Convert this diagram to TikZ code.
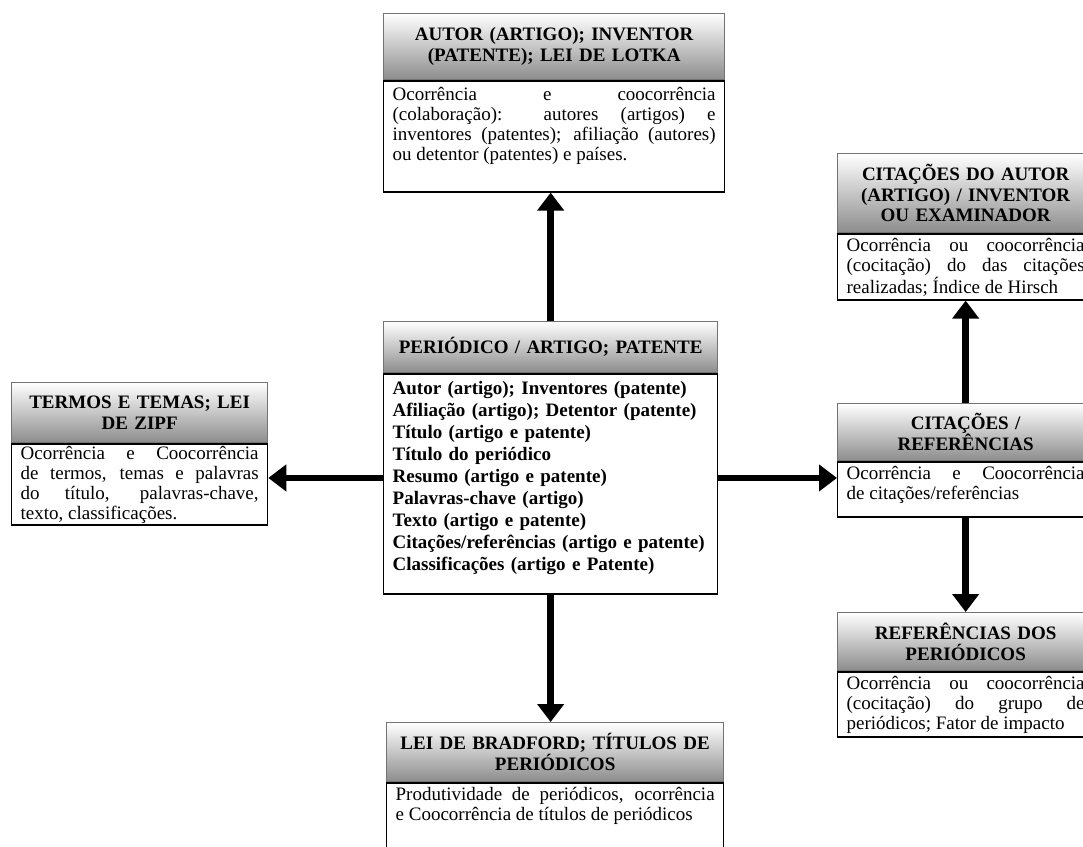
\documentclass[tikz,border=0pt]{standalone}
\usepackage{fontspec}
\setmainfont{Liberation Serif}
\usetikzlibrary{positioning,arrows.meta}
\tolerance=9999
\hbadness=10000

\begin{document}
\begin{tikzpicture}[x=1pt, y=-1pt, node distance=0pt,
    headbox/.style={rectangle, draw=black!55, line width=1.3pt, top color=white, bottom color=black!45, anchor=north west, inner xsep=4pt, inner ysep=0pt, align=center, font=\bfseries\fontsize{19}{20.5}\selectfont},
    bodybox/.style={rectangle, draw=black, line width=1.3pt, fill=white, inner xsep=9pt, inner ysep=0pt, align=justify, text height=18pt, font=\fontsize{19}{20}\selectfont},
    bigarrow/.style={-{Triangle[width=26pt,length=18pt]}, line width=6.5pt}]
    % Page
    \fill[white] (0,0) rectangle (1083,846);
    \useasboundingbox (0,0) rectangle (1083,846);
    \clip (0,0) rectangle (1083,846);

    % Centre
    \node [headbox, minimum height=51pt, text width=326pt] (cenh) at (383,321) {PERIÓDICO / ARTIGO; PATENTE};
    \node [bodybox, below=of cenh, text width=316pt, text height=21pt, text depth=199pt, align=left, font=\bfseries\fontsize{19}{21.9}\selectfont] (cenb)
        {Autor (artigo); Inventores (patente)\\Afiliação (artigo); Detentor (patente)\\Título (artigo e patente)\\Título do periódico\\Resumo (artigo e patente)\\Palavras-chave (artigo)\\Texto (artigo e patente)\\Citações/referências (artigo e patente)\\Classificações (artigo e Patente)};

    % Top and bottom
    \node [headbox, minimum height=66pt, text width=333pt] (autorh) at (383,13) {AUTOR (ARTIGO); INVENTOR\\(PATENTE); LEI DE LOTKA};
    \node [bodybox, below=of autorh, text width=323pt, text height=20pt, text depth=91pt] (autorb)
        {Ocorrência e coocorrência\linebreak (colaboração): autores (artigos) e\linebreak inventores (patentes); afiliação (autores)\linebreak ou detentor (patentes) e países.};
    \node [headbox, minimum height=59pt, text width=329pt] (bradh) at (386,722) {LEI DE BRADFORD; TÍTULOS DE\\PERIÓDICOS};
    \node [bodybox, below=of bradh, text width=319pt, text depth=65pt] (bradb)
        {Produtividade de periódicos, ocorrência\linebreak e Coocorrência de títulos de periódicos};

    % Left
    \node [headbox, minimum height=60pt, text width=248pt] (termosh) at (11,382) {TERMOS E TEMAS; LEI\\DE ZIPF};
    \node [bodybox, below=of termosh, text width=238pt, text height=16pt, text depth=65pt] (termosb)
        {Ocorrência e Coocorrência\linebreak de termos, temas e palavras\linebreak do título, palavras-chave,\linebreak texto, classificações.};

    % Right column
    \node [headbox, minimum height=79pt, text width=248pt] (citauth) at (837,153) {CITAÇÕES DO AUTOR\\(ARTIGO) / INVENTOR\\OU EXAMINADOR};
    \node [bodybox, below=of citauth, text width=238pt, text depth=48pt] (citautb)
        {Ocorrência ou coocorrência\linebreak (cocitação) do das citações\linebreak realizadas; Índice de Hirsch};
    \node [headbox, minimum height=57pt, text width=248pt] (citrefh) at (837,403) {CITAÇÕES /\\REFERÊNCIAS};
    \node [bodybox, below=of citrefh, text width=238pt, text depth=37pt] (citrefb)
        {Ocorrência e Coocorrência\linebreak de citações/referências};
    \node [headbox, minimum height=58pt, text width=248pt] (refperh) at (837,612) {REFERÊNCIAS DOS\\PERIÓDICOS};
    \node [bodybox, below=of refperh, text width=238pt, text depth=47pt] (refperb)
        {Ocorrência ou coocorrência\linebreak (cocitação) do grupo de\linebreak periódicos; Fator de impacto};

    % Arrows
    \draw [bigarrow] (cenh.north) -- (cenh.north |- autorb.south);
    \draw [bigarrow] (cenb.south) -- (cenb.south |- bradh.north);
    \draw [bigarrow] ([yshift=6pt]cenb.west) -- ([yshift=6pt]cenb.west -| termosb.east);
    \draw [bigarrow] ([yshift=6pt]cenb.east) -- ([yshift=6pt]cenb.east -| citrefb.west);
    \draw [bigarrow] (citrefh.north) -- (citautb.south);
    \draw [bigarrow] (citrefb.south) -- (refperh.north);
\end{tikzpicture}
\end{document}
